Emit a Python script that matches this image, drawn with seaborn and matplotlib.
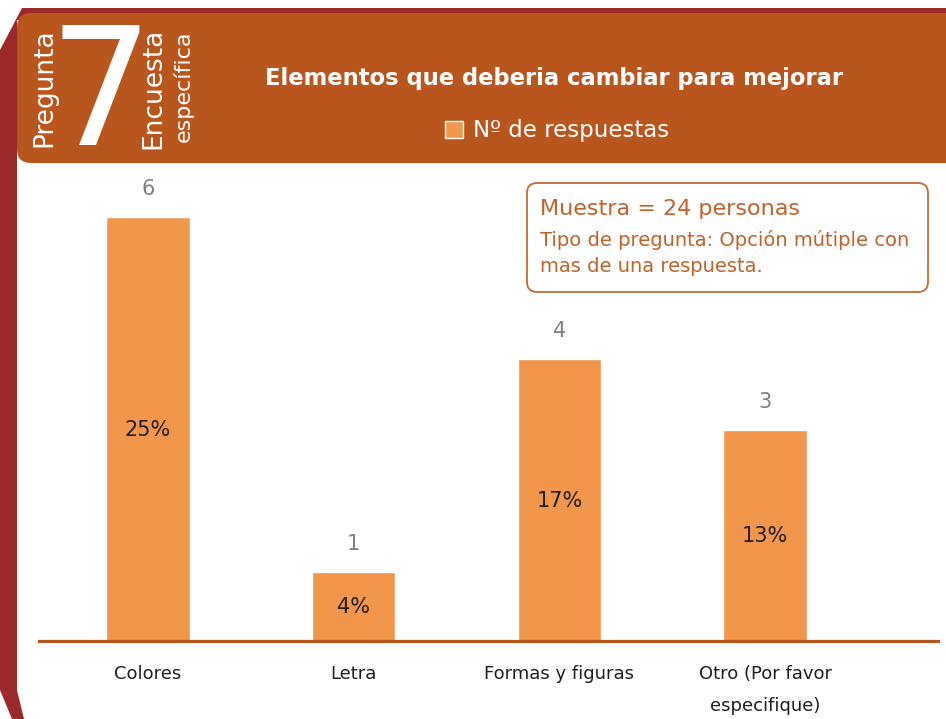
import matplotlib
matplotlib.use("Agg")
import matplotlib.pyplot as plt
import seaborn as sns
import pandas as pd
from matplotlib.patches import FancyBboxPatch, Polygon

# Datos
categorias = ["Colores", "Letra", "Formas y figuras", "Otro (Por favor\nespecifique)"]
respuestas = [6, 1, 4, 3]
porcentajes = ["25%", "4%", "17%", "13%"]
serie = "Nº de respuestas"

titulo = "Elementos que deberia cambiar para mejorar"
muestra = "Muestra = 24 personas"
tipo = "Tipo de pregunta: Opción mútiple con\nmas de una respuesta."

NARANJA_OSC = "#b9561e"
ROJO = "#9c2a2b"
NARANJA_BAR = "#f1964a"
TEXTO_INFO = "#c0612a"

sns.set_theme(style="white")
plt.rcParams["font.family"] = ["DejaVu Sans"]

W, H = 946, 719
fig = plt.figure(figsize=(W / 100, H / 100), dpi=100)

# Fondo y cabecera (coordenadas en pixeles)
bg = fig.add_axes([0, 0, 1, 1])
bg.set_xlim(0, W)
bg.set_ylim(H, 0)
bg.axis("off")

bg.add_patch(Polygon([(0, 50), (22, 8), (W, 8), (W, 20), (17, 20), (17, 690),
                      (24, H), (12, H), (0, 690)], closed=True, color=ROJO, lw=0))
bg.add_patch(FancyBboxPatch((17 + 14, 13 + 14), W + 20 - 31, 150 - 28,
                            boxstyle="round,pad=14", fc=NARANJA_OSC, ec="none"))

bg.text(44, 88, "Pregunta", rotation=90, color="white", fontsize=19,
        ha="center", va="center")
bg.text(101, 145, "7", color="white", fontsize=118, ha="center", va="baseline")
bg.text(153, 88, "Encuesta", rotation=90, color="white", fontsize=19,
        ha="center", va="center")
bg.text(183, 86, "específica", rotation=90, color="white", fontsize=16,
        ha="center", va="center")
bg.text(265, 79, titulo, color="white", fontsize=16.3, fontweight="bold",
        ha="left", va="center")

# Caja informativa
bg.add_patch(FancyBboxPatch((527 + 10, 183 + 10), 401 - 20, 109 - 20,
                            boxstyle="round,pad=10", fc="white", ec="#c66a35", lw=1.3))
bg.text(540, 209, muestra, color=TEXTO_INFO, fontsize=16, ha="left", va="center")
bg.text(540, 253, tipo, color=TEXTO_INFO, fontsize=14, ha="left", va="center",
        linespacing=1.45)

# Grafico de barras
ax = fig.add_axes([38 / W, 1 - 643 / H, 902 / W, (643 - 170) / H])
df = pd.DataFrame({"categoria": categorias, "respuestas": respuestas})
sns.barplot(data=df, x="categoria", y="respuestas", color=NARANJA_BAR,
            width=0.405, saturation=1, edgecolor="white", linewidth=1.0,
            label=serie, ax=ax)
ax.patch.set_visible(False)
ax.set_xlim(-0.535, 3.85)
ax.set_ylim(0, 6.66)
sns.despine(ax=ax, left=True, bottom=True)
ax.set_yticks([])
ax.set_xlabel("")
ax.set_ylabel("")
ax.axhline(0, color=NARANJA_OSC, lw=4.5, zorder=3)
ax.tick_params(axis="x", length=0, pad=16, labelsize=13, labelcolor="#1e1e1e")
for lab in ax.get_xticklabels():
    lab.set_linespacing(1.95)
    lab.set_verticalalignment("top")

for i, (v, p) in enumerate(zip(respuestas, porcentajes)):
    ax.annotate(str(v), (i, v), xytext=(0, 20), textcoords="offset points",
                ha="center", va="center", color="#7f7f7f", fontsize=15)
    ax.text(i, v / 2, p, ha="center", va="center", color="#1e1e1e", fontsize=15)

ax.legend(loc="center left", bbox_to_anchor=(445 / W, 1 - 131 / H),
          bbox_transform=fig.transFigure, frameon=False, fontsize=16.5,
          labelcolor="white", handlelength=0.8, handleheight=0.8,
          handletextpad=0.4, borderpad=0, borderaxespad=0)

fig.savefig("out.png", dpi=100)
